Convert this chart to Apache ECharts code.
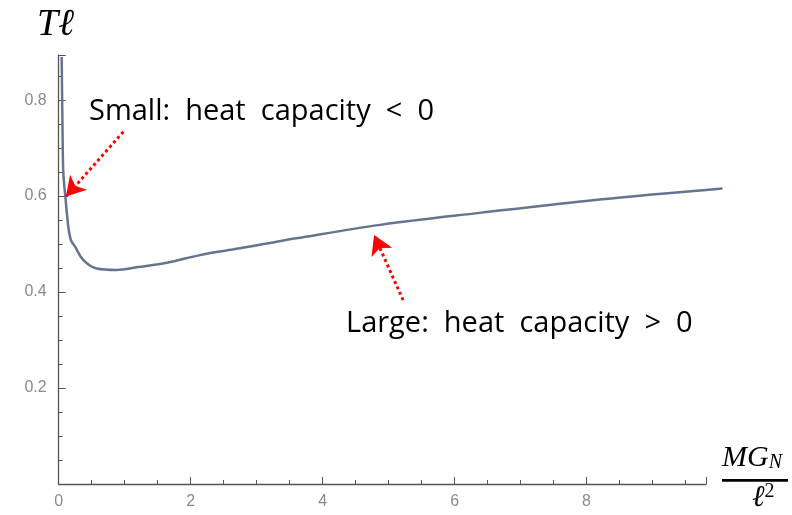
<!DOCTYPE html>
<html><head><meta charset="utf-8">
<script src="https://cdn.jsdelivr.net/npm/echarts@6/dist/echarts.min.js"></script>
<style>html,body{margin:0;padding:0;background:#fff}#c{width:792px;height:515px}</style>
</head><body><div id="c"></div>
<script>
// Data
const massValues = [0.045, 0.06, 0.07, 0.1, 0.146, 0.186, 0.25, 0.37, 0.575, 0.88, 1.2, 1.64, 2.14, 2.65, 3.15, 3.6, 4.87, 6.38, 8.2, 10.06];
const tempValues = [0.89, 0.717, 0.648, 0.60, 0.536, 0.508, 0.494, 0.467, 0.449, 0.446, 0.452, 0.461, 0.477, 0.489, 0.501, 0.512, 0.540, 0.565, 0.593, 0.616];
const xTickLabels = ['0', '2', '4', '6', '8'];
const yTickLabels = ['0.2', '0.4', '0.6', '0.8'];
const smallArrow = [[0.98, 0.734], [0.11, 0.599]];
const largeArrow = [[5.22, 0.383], [4.78, 0.519]];
const smallText = 'Small:  heat  capacity  <  0';
const largeText = 'Large:  heat  capacity  >  0';

const W = 792;
const gridLeft = 58.7, gridRightAxis = 86, gridTop = 55, gridBottom = 31;
const xMaxAxis = 9.81, xMaxCurve = 10.1, yMax = 0.894;
const pxPerUnit = (W - gridLeft - gridRightAxis) / xMaxAxis;
const gridRightCurve = W - gridLeft - pxPerUnit * xMaxCurve;

const chart = echarts.init(document.getElementById('c'));
const axisColor = '#555';
const labelColor = '#8a8a8a';
const arrowStyle = { color: '#ff0000', type: [3, 3], width: 3 };
chart.setOption({
  animation: false,
  grid: [
    { left: gridLeft, right: gridRightAxis, top: gridTop, bottom: gridBottom },
    { left: gridLeft, right: gridRightCurve, top: gridTop, bottom: gridBottom }
  ],
  xAxis: [{
    type: 'value', gridIndex: 0, min: 0, max: xMaxAxis, interval: 2,
    axisLine: { onZero: false, lineStyle: { color: axisColor, width: 1.3 } },
    axisTick: { inside: true, length: 7, lineStyle: { color: axisColor } },
    minorTick: { show: true, splitNumber: 4, length: 4, lineStyle: { color: axisColor } },
    splitLine: { show: false },
    axisLabel: { color: labelColor, fontSize: 16, fontFamily: 'Liberation Sans', margin: 10,
      formatter: v => xTickLabels.includes(String(v)) ? String(v) : '' }
  }, {
    type: 'value', gridIndex: 1, min: 0, max: xMaxCurve, show: false
  }],
  yAxis: [{
    type: 'value', gridIndex: 0, min: 0, max: yMax, interval: 0.2,
    axisLine: { show: true, onZero: false, lineStyle: { color: axisColor, width: 1.3 } },
    axisTick: { show: true, inside: true, length: 7, lineStyle: { color: axisColor } },
    minorTick: { show: true, splitNumber: 4, length: 4, lineStyle: { color: axisColor } },
    splitLine: { show: false },
    axisLabel: { color: labelColor, fontSize: 16, fontFamily: 'Liberation Sans', margin: 12,
      formatter: v => { const s = v.toFixed(1); return yTickLabels.includes(s) ? s : ''; } }
  }, {
    type: 'value', gridIndex: 1, min: 0, max: yMax, show: false
  }],
  series: [{
    type: 'line',
    xAxisIndex: 1, yAxisIndex: 1,
    data: massValues.map((m, i) => [m, tempValues[i]]),
    showSymbol: false,
    smooth: 0.35,
    lineStyle: { color: '#65748f', width: 2.5 },
    markLine: {
      silent: true,
      symbol: ['none', 'arrow'],
      symbolSize: [17, 19],
      label: { show: false },
      lineStyle: arrowStyle,
      data: [
        [{ coord: smallArrow[0] }, { coord: smallArrow[1] }],
        [{ coord: largeArrow[0] }, { coord: largeArrow[1] }]
      ]
    }
  }],
  graphic: [
    { type: 'text', left: 89, top: 97, style: { text: smallText, font: '29px "Open Sans"', fill: '#000' } },
    { type: 'text', left: 346, top: 309, style: { text: largeText, font: '29px "Open Sans"', fill: '#000' } },
    { type: 'text', left: 37, top: 6, style: { text: 'Tℓ', font: 'italic 38px "Liberation Serif"', fill: '#000' } },
    { type: 'text', left: 722, top: 443, style: {
      text: '{a|MG}{s|N}', rich: {
        a: { font: 'italic 30px "Liberation Serif"', fill: '#000', verticalAlign: 'bottom' },
        s: { font: 'italic 20px "Liberation Serif"', fill: '#000', padding: [12, 0, 0, 0], verticalAlign: 'bottom' }
      } } },
    { type: 'rect', shape: { x: 722, y: 479, width: 66, height: 2.8 }, style: { fill: '#000' } },
    { type: 'text', left: 752, top: 482, style: {
      text: '{a|ℓ}{p|2}', rich: {
        a: { font: 'italic 30px "Liberation Serif"', fill: '#000' },
        p: { font: '20px "Liberation Serif"', fill: '#000', padding: [0, 0, 12, 0] }
      } } }
  ]
});
</script></body></html>
